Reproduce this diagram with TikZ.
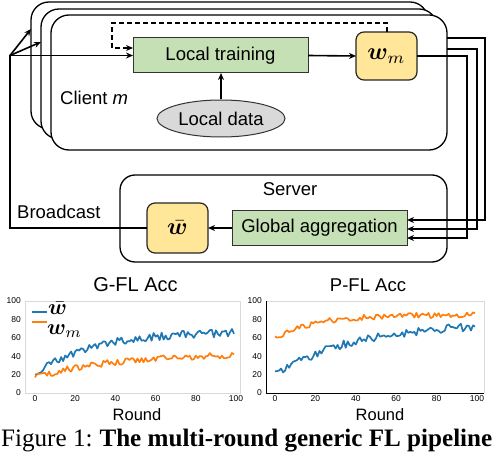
\documentclass[tikz,border=0pt]{standalone}
\usepackage{fontspec}
\usepackage{amsmath,bm}
\setmainfont{Liberation Serif}
\newfontfamily\arial{Liberation Sans}
\usetikzlibrary{arrows.meta,shapes.geometric}
\definecolor{boxgreen}{HTML}{C5E0B4}
\definecolor{boxyellow}{HTML}{FFE699}
\definecolor{datagray}{HTML}{D9D9D9}
\definecolor{plotblue}{HTML}{1F77B4}
\definecolor{plotorange}{HTML}{FF7F0E}
\newcommand{\bigmath}[2][2.4]{\scalebox{#1}{\fontsize{10}{12}\selectfont$#2$}}
\tikzset{
  clientbox/.style={draw, line width=1.3pt, fill=white, rounded corners=18pt, inner sep=0pt, outer sep=0pt},
  greenbox/.style={draw=black!80, line width=1pt, fill=boxgreen, inner sep=0pt, outer sep=0pt},
  yellowbox/.style={draw=black!85, line width=1.2pt, fill=boxyellow, rounded corners=8pt, inner sep=0pt, outer sep=0pt},
  conn/.style={line width=1.6pt},
  arr/.style={conn, -{Stealth[length=7pt,width=6pt]}},
  tick/.style={font=\arial\fontsize{8.5}{9}\selectfont, inner sep=0pt},
  axlabel/.style={font=\arial\fontsize{16.5}{18}\selectfont, inner sep=0pt},
  curve/.style={line width=1.7pt, line join=round},
}
\begin{document}
\begin{tikzpicture}[x=1pt, y=-1pt, font={\arial\fontsize{18.5}{20}\selectfont}]
\useasboundingbox (0,0) rectangle (494,454);
% client boxes
\node[clientbox, minimum width=397pt, minimum height=127pt] (cback) at (229.5,65.5) {};
\node[clientbox, minimum width=396pt, minimum height=130pt] (cmid) at (239,74) {};
\node[clientbox, minimum width=396pt, minimum height=135pt] (cfront) at (249,82.5) {};
\node[greenbox, minimum width=175pt, minimum height=35pt] (lt) at (220.5,55.5) {Local training};
\node[yellowbox, minimum width=61pt, minimum height=48pt] (wm) at (386.5,56) {\bigmath{\bm{w}_m}};
\node[ellipse, draw=black!80, line width=1pt, fill=datagray, minimum width=128pt, minimum height=37pt, inner sep=0pt] (ld) at (221,118.5) {Local data};
\node[anchor=base west, inner sep=0pt] (cl) at (60,105) {Client \textit{m}};
% server
\node[clientbox, rounded corners=15pt, minimum width=327pt, minimum height=87pt] (srv) at (283.5,218.5) {};
\node[inner sep=0pt] (srvl) at (290,189) {Server};
\node[yellowbox, minimum width=61pt, minimum height=50pt] (wbar) at (177.5,228) {\bigmath{\bar{\bm{w}}}};
\node[greenbox, minimum width=175pt, minimum height=35pt] (ga) at (319.5,228) {Global aggregation};
\node[anchor=base west, inner sep=0pt] (bc) at (17,218) {Broadcast};
% coordinates
\coordinate (bl) at (10,228);
\coordinate (tl) at (10,55.5);
\coordinate (cbin) at (31,29);
\coordinate (cmin) at (41,42);
\coordinate (d1) at (387,23);
\coordinate (d2) at (112,23);
\coordinate (d3) at (112,48);
\coordinate (r1a) at (467,56);
\coordinate (r1b) at (467,238);
\coordinate (r2o) at (447,49);
\coordinate (r2a) at (477,49);
\coordinate (r2b) at (477,229);
\coordinate (r3o) at (447,38);
\coordinate (r3a) at (485,38);
\coordinate (r3b) at (485,220);
% connectors
\draw[arr] (wbar.west) -- (bl) -- (tl) -- (lt.west);
\draw[arr] (tl) -- (cbin);
\draw[arr] (tl) -- (cmin);
\draw[arr] (lt.east) -- (wm.west);
\draw[arr] (ld.north) -- (ld.north |- lt.south);
\draw[arr, dash pattern=on 5pt off 3pt] (wm.north -| d1) -- (d1) -- (d2) -- (d3) -- (d3 -| lt.west);
\draw[arr] (wm.east) -- (r1a) -- (r1b) -- (r1b -| ga.east);
\draw[arr] (r2o) -- (r2a) -- (r2b) -- (r2b -| ga.east);
\draw[arr] (r3o) -- (r3a) -- (r3b) -- (r3b -| ga.east);
\draw[arr] (ga.west) -- (wbar.east);
% ---------- G-FL chart ----------
\node[font=\arial\fontsize{20}{22}\selectfont, inner sep=0pt] (gt) at (135.5,285) {G-FL Acc};
\draw[black!15, line width=0.6pt] (25,301) rectangle (240,393);
\foreach \v in {0,20,...,100} {
  \node[tick, anchor=east] (gy\v) at (21,{393-0.92*\v}) {\v};
}
\foreach \v in {0,20,...,100} {
  \node[tick] (gx\v) at ({35+2.01*\v},399) {\v};
}
\node[axlabel] (gr) at (137,415) {Round};
\pgfmathsetseed{11}
\draw[plotblue, curve] plot[domain=0:99, samples=100, variable=\t] ({35+2.01*\t},{393-0.92*(20+47*(1-exp(-\t/28))+4.5*rand)});
\draw[plotorange, curve] plot[domain=0:99, samples=100, variable=\t] ({35+2.01*\t},{393-0.92*(17+26*(1-exp(-\t/40))+3.5*rand)});
\draw[plotblue, line width=2pt] (32,312) -- (47,312);
\draw[plotorange, line width=2pt] (32,322) -- (47,322);
\node[anchor=west, inner sep=0pt] (lg1) at (48,308) {\bigmath[2.2]{\bar{\bm{w}}}};
\node[anchor=west, inner sep=0pt] (lg2) at (47,331) {\bigmath[2.2]{\bm{w}_m}};
% ---------- P-FL chart ----------
\node[font=\arial\fontsize{18.5}{20}\selectfont, inner sep=0pt] (pt) at (368,285) {P-FL Acc};
\draw[black!15, line width=0.6pt] (266,301) -- (484,301) -- (484,393);
\draw[black, line width=0.8pt] (266,301) -- (266,393) -- (484,393);
\foreach \v in {0,20,...,100} {
  \node[tick, anchor=east] (py\v) at (262,{393-0.92*\v}) {\v};
}
\foreach \v in {0,20,...,100} {
  \node[tick] (px\v) at ({275+2.02*\v},399) {\v};
}
\node[axlabel] (pr) at (380,415) {Round};
\draw[plotorange, curve] plot[domain=0:99, samples=100, variable=\t] ({275+2.02*\t},{393-0.92*(60+25*(1-exp(-\t/20))+3*rand)});
\draw[plotblue, curve] plot[domain=0:99, samples=100, variable=\t] ({275+2.02*\t},{393-0.92*(20+57*(1-exp(-\t/40))+4.5*rand)});
% caption
\node[anchor=base west, inner sep=0pt, font=\fontsize{25.1}{27}\selectfont] (cap) at (1,446) {Figure 1:\hspace{7pt}\textbf{The multi-round generic FL pipeline}};
\end{tikzpicture}
\end{document}
